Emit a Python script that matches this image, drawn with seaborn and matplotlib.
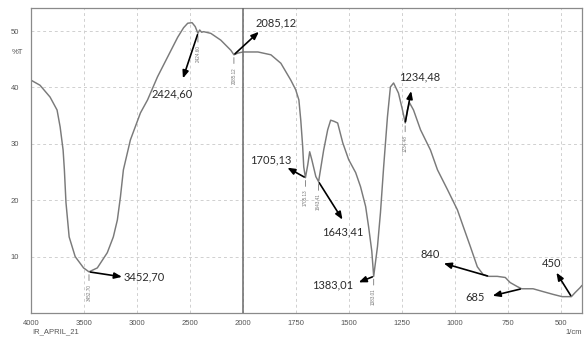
import numpy as np
import pandas as pd
import matplotlib
matplotlib.use('Agg')
import matplotlib.pyplot as plt
import seaborn as sns

# spectrum (wavenumber in 1/cm, transmittance in %T)
wavenumber = [4000, 3915, 3820, 3754, 3725, 3697, 3685, 3670, 3640, 3583, 3504, 3453,
              3374, 3280, 3223, 3185, 3156, 3128, 3062, 2967, 2900, 2806, 2711, 2616,
              2560, 2521, 2480, 2450, 2425, 2408, 2390, 2370, 2303, 2209, 2114, 2085,
              2047, 2000, 1929, 1868, 1821, 1774, 1751, 1736, 1727, 1718, 1713, 1705,
              1694, 1685, 1675, 1656, 1643, 1619, 1600, 1586, 1570, 1553, 1529, 1501,
              1468, 1445, 1421, 1407, 1392, 1383, 1365, 1351, 1336, 1318, 1304, 1289,
              1266, 1247, 1234, 1224, 1214, 1195, 1162, 1115, 1082, 1035, 988, 960,
              927, 894, 866, 840, 800, 762, 739, 706, 685, 631, 584, 536, 494, 466,
              450, 433, 409, 400]
transmittance = [41.3, 40.4, 38.3, 36.0, 33.0, 28.9, 25.4, 19.6, 13.5, 10.0, 8.0, 7.3,
                 8.0, 10.7, 13.5, 16.5, 20.6, 25.4, 30.7, 35.5, 37.8, 41.9, 45.4, 48.9,
                 50.6, 51.4, 51.5, 50.8, 49.6, 50.2, 49.8, 49.9, 49.6, 48.4, 46.6, 45.8,
                 46.1, 46.3, 46.3, 45.8, 44.3, 41.3, 39.6, 37.8, 34.2, 29.5, 25.9, 24.0,
                 26.3, 28.6, 27.2, 24.2, 23.3, 28.9, 32.5, 34.2, 34.0, 33.7, 30.2, 27.2,
                 24.9, 22.4, 18.9, 15.3, 11.0, 6.5, 11.8, 17.8, 25.9, 34.8, 40.1, 40.8,
                 39.0, 36.0, 33.7, 36.0, 37.3, 36.0, 32.5, 28.9, 25.4, 21.9, 18.3, 15.3,
                 11.8, 8.2, 6.8, 6.5, 6.5, 6.3, 5.4, 4.7, 4.3, 4.3, 3.8, 3.3, 2.9, 2.9,
                 2.9, 3.6, 4.5, 4.9]

# labelled bands
band_wn = [3452.70, 2424.60, 2085.12, 1705.13, 1643.41, 1383.01, 1234.48, 840, 685, 450]
band_T = [7.3, 49.6, 45.8, 24.0, 23.3, 6.5, 33.7, 6.5, 4.3, 2.9]
band_text = ['3452,70', '2424,60', '2085,12', '1705,13', '1643,41', '1383,01', '1234,48',
             '840', '685', '450']
band_small = ['3452.70', '2424.60', '2085.12', '1705.13', '1643.41', '1383.01', '1234.48',
              '', '', '']
# arrow head and label offsets in pixels from each band
head_off = [(33, -5), (-15, -45), (25, 23), (-18, 10), (24, -38), (-15, -6), (6, 32),
            (-45, 13), (-29, -7), (-15, 24)]
text_off = [(55, -5), (-26, -61), (42, 32), (-35, 18), (24, -50), (-41, -9), (14, 46),
            (-59, 22), (-47, -9), (-20, 33)]

major_x = [4000, 3500, 3000, 2500, 2000, 1750, 1500, 1250, 1000, 750, 500]
minor_x = list(range(4000, 2000, -100)) + list(range(2000, 400, -50))

df = pd.DataFrame({'wn': wavenumber, 'T': transmittance})

sns.set_style('white')
plt.rcParams['font.family'] = ['Liberation Sans', 'DejaVu Sans']

fig = plt.figure(figsize=(5.85, 3.38), dpi=100)
ax = fig.add_axes([31 / 585, 1 - 313 / 338, 551 / 585, 305 / 338])

sns.lineplot(data=df, x='wn', y='T', ax=ax, color='#7a7a7a', linewidth=1.05, sort=False)


def fwd(x):
    x = np.asarray(x, dtype=float)
    return np.where(x > 2000, 2000 + (x - 2000) / 2, x)


def inv(y):
    y = np.asarray(y, dtype=float)
    return np.where(y > 2000, 2000 + (y - 2000) * 2, y)


ax.set_xscale('function', functions=(fwd, inv))
ax.set_xlim(4000, 400)
ax.set_ylim(0, 54.1)
ax.set_xticks(major_x)
ax.set_xticklabels([str(v) for v in major_x])
ax.set_xticks(minor_x, minor=True)
ax.set_yticks([10, 20, 30, 40, 50])
ax.set_yticks(np.arange(2, 54, 2), minor=True)
ax.set_xlabel('')
ax.set_ylabel('')

ax.grid(True, which='major', color='#d0d0d0', linestyle=(0, (3, 3)), linewidth=0.7)
ax.axvline(2000, color='#6a6a6a', linewidth=1.1, zorder=3)

for s in ax.spines.values():
    s.set_color('#8a8a8a')
    s.set_linewidth(0.9)
ax.tick_params(axis='both', which='major', labelsize=5.5, labelcolor='#555555',
               color='#777777', width=0.7)
ax.tick_params(axis='x', which='major', direction='inout', length=6, pad=2)
ax.tick_params(axis='x', which='minor', direction='in', length=3, color='#777777', width=0.7)
ax.tick_params(axis='y', which='major', direction='out', length=7, pad=1.5)
ax.tick_params(axis='y', which='minor', direction='inout', length=5, color='#777777', width=0.7)

fig.text(12 / 585, 1 - 53 / 338, '%T', fontsize=5.5, color='#555555', va='center')
fig.text(32 / 585, 1 - 332 / 338, 'IR_APRIL_21', fontsize=5.5, color='#555555', va='center')
fig.text(582 / 585, 1 - 333 / 338, '1/cm', fontsize=5.5, color='#555555', va='center', ha='right')

for wn, t, lab, small, ho, to in zip(band_wn, band_T, band_text, band_small, head_off, text_off):
    if small:
        ax.annotate(small, xy=(wn, t), xytext=(0, -12), textcoords='offset pixels',
                    rotation=90, ha='center', va='top', fontsize=3.3, color='#777777',
                    arrowprops=dict(arrowstyle='-', color='#777777', lw=0.6,
                                    shrinkA=0, shrinkB=2))
    ax.annotate('', xy=(wn, t), xytext=ho, textcoords='offset pixels',
                arrowprops=dict(arrowstyle='<|-,head_length=0.45,head_width=0.18',
                                color='black', lw=1.2, shrinkA=0, shrinkB=1))
    ax.annotate(lab, xy=(wn, t), xytext=to, textcoords='offset pixels',
                ha='center', va='center', fontsize=8, color='#2a2a2a', family=['Lato', 'DejaVu Sans'])

fig.savefig('out.png', dpi=100)
